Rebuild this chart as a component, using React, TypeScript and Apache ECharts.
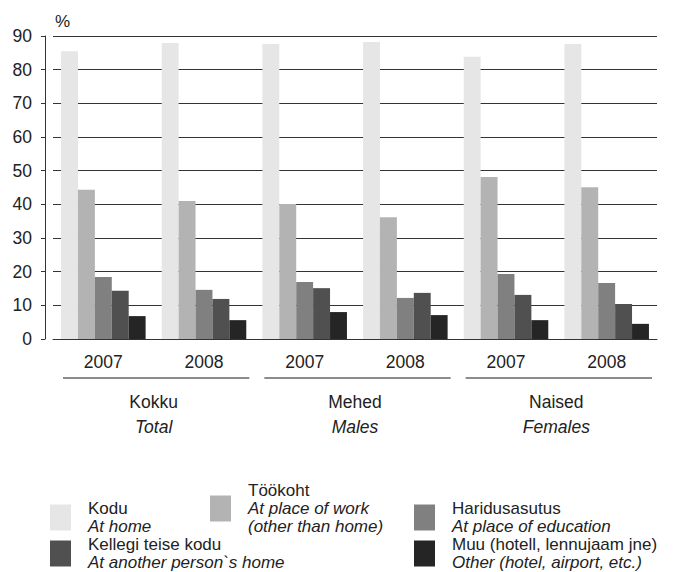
import React, { useEffect, useRef } from "react";
import * as echarts from "echarts";

const years = ["2007", "2008", "2007", "2008", "2007", "2008"];
const groupsEt = ["Kokku", "Mehed", "Naised"];
const groupsEn = ["Total", "Males", "Females"];
const yTicks = [0, 10, 20, 30, 40, 50, 60, 70, 80, 90];

const seriesEt = ["Kodu", "Töökoht", "Haridusasutus", "Kellegi teise kodu", "Muu (hotell, lennujaam jne)"];
const seriesEn = ["At home", "At place of work\n(other than home)", "At place of education", "At another person`s home", "Other (hotel, airport, etc.)"];

const kodu = [85.5, 87.9, 87.6, 88.2, 83.8, 87.6];
const tookoht = [44.3, 41.0, 40.1, 36.2, 48.1, 45.1];
const haridus = [18.4, 14.6, 16.9, 12.2, 19.3, 16.6];
const kellegi = [14.3, 11.9, 15.1, 13.7, 13.1, 10.4];
const muu = [6.8, 5.6, 8.0, 7.1, 5.6, 4.5];

const values = [kodu, tookoht, haridus, kellegi, muu];
const colors = ["#e6e6e6", "#b3b3b3", "#808080", "#505050", "#252525"];

const FONT = "Liberation Sans, Arial, sans-serif";
const W = 678;
const H = 572;
const GRID_L = 53;
const GRID_R = 21;
const GRID_T = 36;
const GRID_B = 233;

const legendPos = [
  { left: 50, top: 500 },
  { left: 210, top: 482 },
  { left: 414, top: 500 },
  { left: 50, top: 536 },
  { left: 414, top: 536 },
];

export default function App() {
  const ref = useRef<HTMLDivElement>(null);
  useEffect(() => {
    if (!ref.current) return;
    const chart = echarts.init(ref.current, null, { renderer: "svg" });
    const plotW = W - GRID_L - GRID_R;
    const catW = plotW / years.length;
    const sepY = 378;
    const separators = groupsEt.map((_, i) => ({
      type: "line",
      shape: {
        x1: GRID_L + catW * 2 * i + 10,
        y1: sepY,
        x2: GRID_L + catW * 2 * (i + 1) - 5,
        y2: sepY,
      },
      style: { stroke: "#666", lineWidth: 1.5 },
    }));

    chart.setOption({
      animation: false,
      textStyle: { fontFamily: FONT },
      grid: { left: GRID_L, right: GRID_R, top: GRID_T, bottom: GRID_B },
      xAxis: [
        {
          type: "category",
          data: years,
          axisLine: { show: true, lineStyle: { color: "#333", width: 1 } },
          axisTick: { show: false },
          axisLabel: { color: "#222", fontSize: 17.5, margin: 14, fontFamily: FONT },
        },
        {
          type: "category",
          data: groupsEt,
          position: "bottom",
          axisLine: { show: false },
          axisTick: { show: false },
          axisLabel: {
            margin: 50,
            formatter: (v: string, i: number) => `{a|${v}}\n{b|${groupsEn[i]}}`,
            rich: {
              a: { fontSize: 17.5, color: "#222", lineHeight: 25, fontFamily: FONT },
              b: { fontSize: 17.5, color: "#222", lineHeight: 25, fontStyle: "italic", fontFamily: FONT },
            },
          },
        },
      ],
      yAxis: {
        type: "value",
        min: 0,
        max: 90,
        interval: 10,
        offset: 8,
        name: "%",
        nameLocation: "end",
        nameGap: 6,
        nameTextStyle: { color: "#222", fontSize: 17, align: "left", padding: [0, 0, 0, 10], fontFamily: FONT },
        axisLine: { show: true, lineStyle: { color: "#333", width: 1 } },
        axisTick: { show: true, length: 4, inside: false, lineStyle: { color: "#333" } },
        axisLabel: {
          color: "#222",
          fontSize: 17.5,
          margin: 13,
          fontFamily: FONT,
          formatter: (v: number) => (yTicks.includes(v) ? String(v) : ""),
        },
        splitLine: { show: true, lineStyle: { color: "#333", width: 1 } },
      },
      legend: seriesEt.map((name, i) => ({
        data: [name],
        left: legendPos[i].left,
        top: legendPos[i].top,
        padding: 0,
        itemWidth: 21,
        itemHeight: 26,
        icon: "rect",
        selectedMode: false,
        formatter: (n: string) => `{a|${n}}\n{b|${seriesEn[seriesEt.indexOf(n)].split("\n").join("}\n{b|")}}`,
        textStyle: {
          padding: [0, 0, 0, 12],
          rich: {
            a: { fontSize: 17, color: "#222", lineHeight: 18, fontFamily: FONT },
            b: { fontSize: 17, color: "#222", lineHeight: 18, fontStyle: "italic", fontFamily: FONT },
          },
        },
      })),
      series: seriesEt.map((name, i) => ({
        name,
        type: "bar",
        data: values[i],
        barGap: "0%",
        barCategoryGap: "16%",
        itemStyle: { color: colors[i] },
        xAxisIndex: 0,
      })),
      graphic: separators,
    });
    return () => chart.dispose();
  }, []);
  return (
    <div
      ref={ref}
      style={{ position: "fixed", left: 0, top: 0, width: W, height: H, background: "#fff" }}
    />
  );
}
